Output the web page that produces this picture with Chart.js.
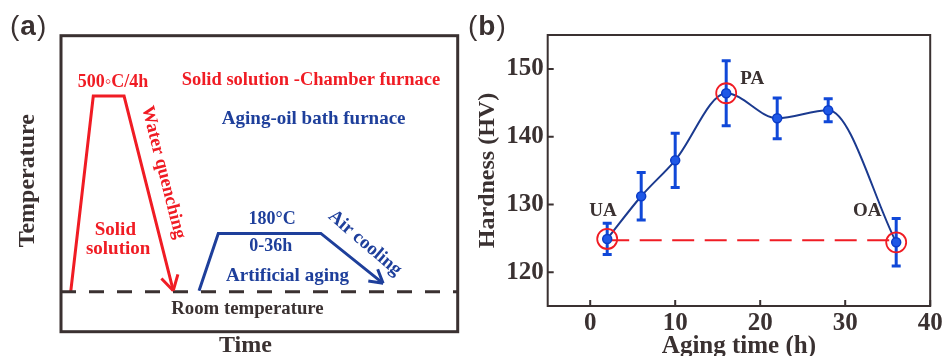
<!DOCTYPE html>
<html>
<head>
<meta charset="utf-8">
<script src="https://cdn.jsdelivr.net/npm/chart.js@4.4.0/dist/chart.umd.min.js"></script>
<style>
  html, body { margin: 0; padding: 0; background: #fff; overflow: hidden; }
  #wrap { position: relative; width: 942px; height: 356px; }
  canvas { position: absolute; top: 0; }
  #chartA { left: 0; }
  #chartB { left: 460px; }
</style>
</head>
<body>
<div id="wrap">
  <canvas id="chartA" width="460" height="356"></canvas>
  <canvas id="chartB" width="482" height="356"></canvas>
</div>
<script>
// (a) heat treatment schematic, arbitrary units 0-100 on both axes
const roomX = [0, 100];
const roomY = [13.5, 13.5];
const solutionX = [2.45, 8.14, 15.9, 28.3];
const solutionY = [13.5, 79.6, 79.6, 13.85];
const agingX = [34.8, 39.65, 65.5, 81.2];
const agingY = [13.85, 33.2, 33.2, 16.35];

// (b) hardness vs aging time
const agingHours = [2, 6, 10, 16, 22, 28, 36];
const hardness = [124.9, 131.2, 136.5, 146.4, 142.7, 143.9, 124.4];
const hardnessErr = [2.3, 3.5, 4.0, 4.8, 3.0, 1.7, 3.5];
const stateLabels = ['UA', 'PA', 'OA'];
const stateIndex = [0, 3, 6];
const refHours = [2, 36];
const refHardness = [124.7, 124.7];
const xTicks = [0, 10, 20, 30, 40];
const yTicks = [120, 130, 140, 150];

const SERIF = "'Liberation Serif', 'Times New Roman', serif";
const SANS = "'Liberation Sans', Arial, sans-serif";
const RED = '#f01c24';
const BLUE_A = '#1e3f9b';
const NAVY = '#1b3a8f';
const BLUE_B = '#1048d8';
const DARK = '#3a3131';

const pts = (xs, ys) => xs.map((x, i) => ({ x: x, y: ys[i] }));

function panelTag(ctx, x, letter) {
  ctx.save();
  ctx.fillStyle = DARK;
  ctx.textBaseline = 'alphabetic';
  ctx.textAlign = 'left';
  ctx.font = `28px ${SANS}`;
  ctx.fillText('(', x, 35);
  let w = ctx.measureText('(').width;
  ctx.font = `bold 28px ${SANS}`;
  ctx.fillText(letter, x + w + 1, 35);
  w += ctx.measureText(letter).width + 2;
  ctx.font = `28px ${SANS}`;
  ctx.fillText(')', x + w, 35);
  ctx.restore();
}

// ---------- panel (a) ----------
const notesA = [
  { text: '500\u25E6C/4h', x: 13.1, y: 84.1, color: RED, size: 18 },
  { text: 'Solid solution -Chamber furnace', x: 63.0, y: 85.0, color: RED, size: 18.5 },
  { text: 'Aging-oil bath furnace', x: 63.7, y: 71.9, color: BLUE_A, size: 19 },
  { text: 'Water quenching', x: 25.8, y: 53.8, color: RED, size: 18.5, rot: 75.8 },
  { text: 'Solid', x: 13.7, y: 34.4, color: RED, size: 19 },
  { text: 'solution', x: 14.4, y: 27.8, color: RED, size: 19 },
  { text: '180\u00B0C', x: 53.2, y: 38.1, color: BLUE_A, size: 18 },
  { text: '0-36h', x: 52.9, y: 28.7, color: BLUE_A, size: 18 },
  { text: 'Artificial aging', x: 57.1, y: 18.8, color: BLUE_A, size: 19 },
  { text: 'Air cooling', x: 76.6, y: 29.9, color: BLUE_A, size: 19, rot: 40.6 },
  { text: 'Room temperature', x: 47.0, y: 7.6, color: DARK, size: 18.8 }
];

function arrowHead(chart, di, color, len) {
  const ctx = chart.ctx;
  const d = chart.getDatasetMeta(di).data;
  const p = d[d.length - 1], q = d[d.length - 2];
  const ang = Math.atan2(p.y - q.y, p.x - q.x);
  ctx.save();
  ctx.strokeStyle = color;
  ctx.lineWidth = 3;
  ctx.lineCap = 'butt';
  ctx.beginPath();
  [-1, 1].forEach(s => {
    const b = ang + Math.PI + s * Math.PI / 6;
    ctx.moveTo(p.x, p.y);
    ctx.lineTo(p.x + len * Math.cos(b), p.y + len * Math.sin(b));
  });
  ctx.stroke();
  ctx.restore();
}

const schematicPlugin = {
  id: 'schematic',
  afterDatasetsDraw(chart) {
    const { ctx, chartArea: a, scales: { x, y } } = chart;
    ctx.save();
    ctx.strokeStyle = DARK;
    ctx.lineWidth = 3;
    ctx.strokeRect(a.left, a.top, a.right - a.left, a.bottom - a.top);
    ctx.restore();

    arrowHead(chart, 1, RED, 17);
    arrowHead(chart, 2, BLUE_A, 15);

    notesA.forEach(n => {
      ctx.save();
      ctx.translate(x.getPixelForValue(n.x), y.getPixelForValue(n.y));
      ctx.rotate((n.rot || 0) * Math.PI / 180);
      ctx.font = `bold ${n.size}px ${SERIF}`;
      ctx.fillStyle = n.color;
      ctx.textAlign = 'center';
      ctx.textBaseline = 'middle';
      ctx.fillText(n.text, 0, 0);
      ctx.restore();
    });

    // axis titles
    ctx.save();
    ctx.fillStyle = DARK;
    ctx.font = `bold 24px ${SERIF}`;
    ctx.textAlign = 'center';
    ctx.textBaseline = 'middle';
    ctx.fillText('Time', x.getPixelForValue(46.5), 346);
    ctx.translate(28, (a.top + a.bottom) / 2 - 3);
    ctx.rotate(-Math.PI / 2);
    ctx.fillText('Temperature', 0, 0);
    ctx.restore();

    panelTag(ctx, 10, 'a');
  }
};

new Chart(document.getElementById('chartA'), {
  type: 'scatter',
  data: {
    datasets: [
      { data: pts(roomX, roomY), showLine: true, borderColor: DARK, borderWidth: 3, borderDash: [15, 13], pointRadius: 0 },
      { data: pts(solutionX, solutionY), showLine: true, borderColor: RED, borderWidth: 3, pointRadius: 0 },
      { data: pts(agingX, agingY), showLine: true, borderColor: BLUE_A, borderWidth: 3, pointRadius: 0 }
    ]
  },
  options: {
    responsive: false,
    animation: false,
    events: [],
    devicePixelRatio: 1,
    layout: { padding: { left: 61, top: 35.7, right: 2.3, bottom: 24.3 } },
    plugins: { legend: { display: false }, tooltip: { enabled: false } },
    scales: {
      x: { display: false, min: 0, max: 100 },
      y: { display: false, min: 0, max: 100 }
    }
  },
  plugins: [schematicPlugin]
});

// ---------- panel (b) ----------
const labelOffsets = [[-4.3, -28.2], [26, -14.3], [-29, -31.6]];

const hardnessPlugin = {
  id: 'hardness',
  afterDatasetDraw(chart, args) {
    if (args.index !== 0) return;
    const { ctx, scales: { x, y } } = chart;
    ctx.save();
    ctx.strokeStyle = BLUE_B;
    ctx.lineWidth = 3;
    agingHours.forEach((h, i) => {
      const px = x.getPixelForValue(h);
      const top = y.getPixelForValue(hardness[i] + hardnessErr[i]);
      const bot = y.getPixelForValue(hardness[i] - hardnessErr[i]);
      ctx.beginPath();
      ctx.moveTo(px, top); ctx.lineTo(px, bot);
      ctx.moveTo(px - 4.5, top); ctx.lineTo(px + 4.5, top);
      ctx.moveTo(px - 4.5, bot); ctx.lineTo(px + 4.5, bot);
      ctx.stroke();
    });
    ctx.restore();
  },
  afterDatasetsDraw(chart) {
    const { ctx, chartArea: a, scales: { x, y } } = chart;
    ctx.save();
    ctx.strokeStyle = DARK;
    ctx.lineWidth = 2;
    ctx.strokeRect(a.left, a.top, a.right - a.left, a.bottom - a.top);
    ctx.beginPath();
    xTicks.forEach(v => {
      const px = x.getPixelForValue(v);
      ctx.moveTo(px, a.bottom); ctx.lineTo(px, a.bottom - 6);
    });
    yTicks.forEach(v => {
      const py = y.getPixelForValue(v);
      ctx.moveTo(a.left, py); ctx.lineTo(a.left + 6, py);
    });
    ctx.stroke();

    ctx.fillStyle = DARK;
    ctx.font = `bold 19px ${SERIF}`;
    ctx.textAlign = 'center';
    ctx.textBaseline = 'middle';
    stateLabels.forEach((s, k) => {
      const i = stateIndex[k];
      ctx.fillText(s, x.getPixelForValue(agingHours[i]) + labelOffsets[k][0],
        y.getPixelForValue(hardness[i]) + labelOffsets[k][1]);
    });
    ctx.restore();
    panelTag(ctx, 8, 'b');
  }
};

const tickFont = { family: SERIF, size: 25, weight: 'bold' };

new Chart(document.getElementById('chartB'), {
  type: 'scatter',
  data: {
    datasets: [
      { data: pts(agingHours, hardness), showLine: true, borderColor: NAVY, borderWidth: 2,
        cubicInterpolationMode: 'monotone', pointRadius: 0, order: 3 },
      { data: pts(refHours, refHardness), showLine: true, borderColor: RED, borderWidth: 2,
        borderDash: [22, 10.5], pointRadius: 0, order: 2 },
      { data: pts(agingHours, hardness), pointRadius: 4.5, pointBackgroundColor: '#1f58e6',
        pointBorderColor: '#0b3cc8', pointBorderWidth: 1.5, order: 1 },
      { data: stateIndex.map(i => ({ x: agingHours[i], y: hardness[i] })), pointRadius: 10,
        pointBackgroundColor: 'rgba(0,0,0,0)', pointBorderColor: RED, pointBorderWidth: 1.8, order: 0 }
    ]
  },
  options: {
    responsive: false,
    animation: false,
    events: [],
    devicePixelRatio: 1,
    layout: { padding: { left: 0, top: 35, right: 11, bottom: 0 } },
    plugins: { legend: { display: false }, tooltip: { enabled: false } },
    scales: {
      x: {
        min: -5, max: 40,
        afterBuildTicks: s => { s.ticks = xTicks.map(v => ({ value: v })); },
        afterFit: s => { s.height = 50; s.paddingLeft = 0; s.paddingRight = 0; },
        grid: { display: false, drawTicks: false },
        border: { display: false },
        ticks: { font: tickFont, color: DARK, padding: 3, maxRotation: 0, autoSkip: false },
        title: { display: true, text: 'Aging time (h)', color: DARK,
          font: { family: SERIF, size: 25, weight: 'bold', lineHeight: 1 },
          padding: { top: 0, bottom: -3 } }
      },
      y: {
        min: 115, max: 155,
        afterBuildTicks: s => { s.ticks = yTicks.map(v => ({ value: v })); },
        afterFit: s => { s.width = 87.7; s.paddingTop = 0; s.paddingBottom = 0; },
        grid: { display: false, drawTicks: false },
        border: { display: false },
        ticks: { font: tickFont, color: DARK, padding: 4 },
        title: { display: true, text: 'Hardness (HV)', color: DARK, font: { family: SERIF, size: 24, weight: 'bold' },
          padding: { top: 13.6, bottom: 0 } }
      }
    }
  },
  plugins: [hardnessPlugin]
});
</script>
</body>
</html>
